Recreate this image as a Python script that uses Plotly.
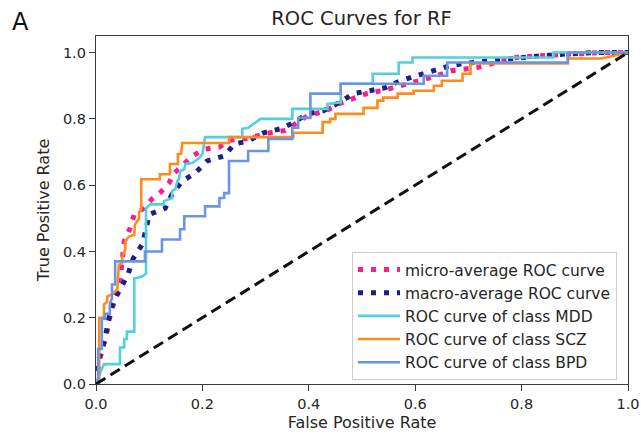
import plotly.graph_objects as go

# ---- data (fpr, tpr) ----
micro_pts = [(0, 0), (0.002, 0.03), (0.008, 0.08), (0.015, 0.12), (0.021, 0.16), (0.024, 0.19),
             (0.03, 0.23), (0.038, 0.27), (0.045, 0.31), (0.049, 0.38), (0.053, 0.43), (0.064, 0.47),
             (0.072, 0.512), (0.09, 0.53), (0.105, 0.558), (0.12, 0.576), (0.137, 0.606), (0.147, 0.636),
             (0.166, 0.664), (0.181, 0.688), (0.205, 0.709), (0.232, 0.715), (0.25, 0.735), (0.28, 0.74),
             (0.328, 0.758), (0.356, 0.765), (0.397, 0.809), (0.431, 0.824), (0.46, 0.848), (0.484, 0.861),
             (0.51, 0.877), (0.54, 0.886), (0.572, 0.9), (0.61, 0.915), (0.635, 0.927), (0.667, 0.945),
             (0.717, 0.955), (0.74, 0.965), (0.766, 0.975), (0.79, 0.985), (0.849, 0.992), (0.91, 0.997),
             (0.95, 1.0), (1, 1)]

macro_pts = [(0, 0), (0.002, 0.06), (0.01, 0.1), (0.017, 0.136), (0.023, 0.19), (0.03, 0.235),
             (0.04, 0.27), (0.049, 0.3), (0.06, 0.33), (0.07, 0.379), (0.087, 0.421), (0.094, 0.467),
             (0.1, 0.512), (0.13, 0.53), (0.143, 0.573), (0.162, 0.612), (0.186, 0.636), (0.209, 0.673),
             (0.241, 0.688), (0.26, 0.724), (0.286, 0.733), (0.315, 0.758), (0.347, 0.77), (0.371, 0.788),
             (0.397, 0.815), (0.427, 0.824), (0.456, 0.848), (0.484, 0.876), (0.512, 0.885), (0.544, 0.894),
             (0.572, 0.915), (0.605, 0.93), (0.633, 0.945), (0.66, 0.958), (0.69, 0.967), (0.75, 0.978),
             (0.82, 0.988), (0.877, 0.995), (0.94, 1.0), (1, 1)]

mdd_pts = [(0, 0), (0.004, 0.02), (0.015, 0.06), (0.045, 0.06), (0.045, 0.11), (0.053, 0.11),
           (0.053, 0.136), (0.058, 0.136), (0.058, 0.158), (0.072, 0.158), (0.072, 0.318), (0.087, 0.324),
           (0.094, 0.333), (0.094, 0.53), (0.102, 0.542), (0.128, 0.542), (0.128, 0.552), (0.143, 0.561),
           (0.143, 0.582), (0.149, 0.588), (0.153, 0.612), (0.156, 0.618), (0.158, 0.642), (0.166, 0.648),
           (0.168, 0.664), (0.181, 0.667), (0.194, 0.682), (0.2, 0.694), (0.203, 0.724), (0.205, 0.745),
           (0.275, 0.745), (0.275, 0.77), (0.286, 0.773), (0.296, 0.785), (0.309, 0.8), (0.369, 0.8),
           (0.369, 0.83), (0.435, 0.83), (0.435, 0.845), (0.46, 0.85), (0.46, 0.906), (0.52, 0.906),
           (0.52, 0.936), (0.569, 0.936), (0.569, 0.97), (0.595, 0.97), (0.595, 0.985), (0.86, 0.985),
           (0.86, 1.0), (1, 1)]

scz_pts = [(0, 0), (0.006, 0), (0.006, 0.2), (0.015, 0.2), (0.015, 0.24), (0.021, 0.248), (0.021, 0.264),
           (0.03, 0.27), (0.04, 0.285), (0.043, 0.36), (0.049, 0.364), (0.049, 0.385), (0.055, 0.406),
           (0.055, 0.43), (0.062, 0.445), (0.072, 0.45), (0.073, 0.48), (0.081, 0.5), (0.081, 0.52),
           (0.085, 0.527), (0.085, 0.618), (0.12, 0.618), (0.12, 0.633), (0.139, 0.633), (0.139, 0.664),
           (0.154, 0.664), (0.154, 0.694), (0.16, 0.694), (0.162, 0.727), (0.25, 0.727), (0.25, 0.745),
           (0.371, 0.745), (0.371, 0.758), (0.426, 0.758), (0.426, 0.79), (0.44, 0.79), (0.44, 0.8),
           (0.45, 0.8), (0.45, 0.815), (0.503, 0.815), (0.503, 0.833), (0.529, 0.833), (0.529, 0.855),
           (0.54, 0.855), (0.54, 0.864), (0.567, 0.864), (0.567, 0.876), (0.597, 0.876), (0.597, 0.885),
           (0.635, 0.885), (0.635, 0.9), (0.65, 0.9), (0.65, 0.915), (0.689, 0.915), (0.689, 0.936),
           (0.704, 0.936), (0.704, 0.967), (0.887, 0.967), (0.887, 0.982), (0.95, 0.982), (1, 1)]

bpd_pts = [(0, 0), (0.004, 0), (0.004, 0.106), (0.011, 0.106), (0.011, 0.197), (0.017, 0.197),
           (0.017, 0.212), (0.026, 0.212), (0.026, 0.242), (0.03, 0.258), (0.03, 0.3), (0.036, 0.3),
           (0.036, 0.37), (0.092, 0.37), (0.092, 0.4), (0.124, 0.4), (0.124, 0.436), (0.158, 0.436),
           (0.158, 0.467), (0.166, 0.467), (0.166, 0.506), (0.205, 0.506), (0.205, 0.536), (0.232, 0.536),
           (0.232, 0.561), (0.241, 0.561), (0.241, 0.576), (0.25, 0.576), (0.25, 0.673), (0.286, 0.673),
           (0.286, 0.703), (0.324, 0.703), (0.324, 0.739), (0.369, 0.739), (0.369, 0.773), (0.38, 0.773),
           (0.38, 0.803), (0.403, 0.803), (0.403, 0.876), (0.46, 0.876), (0.46, 0.906), (0.616, 0.906),
           (0.616, 0.93), (0.66, 0.93), (0.66, 0.97), (0.887, 0.97), (0.887, 1.0), (1, 1)]

chance_x = [0, 1]
chance_y = [0, 1]

series_names = ["micro-average ROC curve", "macro-average ROC curve",
                "ROC curve of class MDD", "ROC curve of class SCZ", "ROC curve of class BPD"]
tick_vals = [0.0, 0.2, 0.4, 0.6, 0.8, 1.0]
tick_text = ["0.0", "0.2", "0.4", "0.6", "0.8", "1.0"]

FONT = "DejaVu Sans"
TXT = "#262626"

fig = go.Figure()


def add(pts, name, color, width, dash):
    xs = [p[0] for p in pts]
    ys = [p[1] for p in pts]
    fig.add_trace(go.Scatter(x=xs, y=ys, mode="lines", name=name,
                             line=dict(color=color, width=width, dash=dash)))


add(micro_pts, series_names[0], "#fa1e8c", 5, "5px,8px")
add(macro_pts, series_names[1], "#1c2082", 5, "5px,8px")
add(mdd_pts, series_names[2], "#52cfe0", 2.6, "solid")
add(scz_pts, series_names[3], "#ff8c1a", 2.6, "solid")
add(bpd_pts, series_names[4], "#6a95e6", 2.6, "solid")
fig.add_trace(go.Scatter(x=chance_x, y=chance_y, mode="lines", showlegend=False,
                         line=dict(color="#111111", width=3, dash="11px,6px")))

axis_common = dict(showline=True, linecolor="#3a3a3a", linewidth=1.3, mirror=True,
                   ticks="outside", ticklen=6, tickwidth=1.2, tickcolor="#3a3a3a",
                   showgrid=False, zeroline=False, tickvals=tick_vals, ticktext=tick_text,
                   automargin=False,
                   tickfont=dict(family=FONT, size=14.5, color=TXT))

fig.update_layout(
    width=641, height=437,
    margin=dict(l=96, r=13, t=36, b=53),
    paper_bgcolor="white", plot_bgcolor="white",
    title=dict(text="ROC Curves for RF", x=361.5 / 641,
               xref="container", xanchor="center",
               y=1 - 18 / 437, yanchor="middle", font=dict(family=FONT, size=19.5, color=TXT)),
    xaxis=dict(range=[0, 1], title=dict(text="False Positive Rate", standoff=6,
                                        font=dict(family=FONT, size=16, color=TXT)), **axis_common),
    yaxis=dict(range=[0, 1.05], title=dict(text="True Positive Rate", standoff=9,
                                           font=dict(family=FONT, size=16, color=TXT)), **axis_common),
    legend=dict(x=(352 - 96) / 532, y=(384 - 252) / 348, xanchor="left", yanchor="top",
                bgcolor="rgba(255,255,255,0.85)", bordercolor="#cccccc", borderwidth=1,
                itemwidth=42,
                font=dict(family=FONT, size=15.5, color=TXT), tracegroupgap=0),
    showlegend=True,
    annotations=[dict(text="A", xref="paper", yref="paper", x=(20 - 96) / 532, y=(384 - 22) / 348,
                      xanchor="center", yanchor="middle", showarrow=False,
                      font=dict(family=FONT, size=24, color="#111111"))],
)

fig.write_html("out.html", config={"displayModeBar": False},
               post_script="document.body.style.margin='0';")
